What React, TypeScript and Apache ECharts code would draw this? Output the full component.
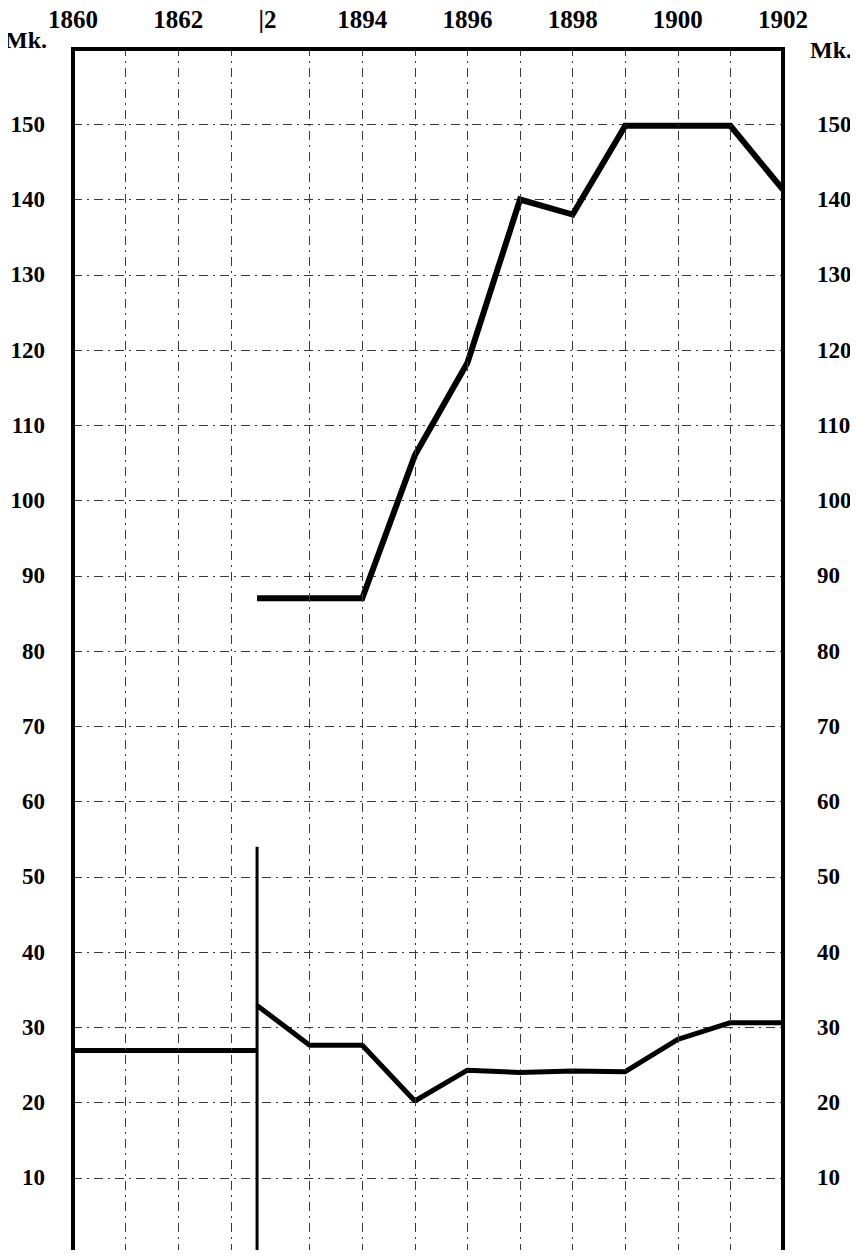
import React, { useEffect, useRef } from "react";
import * as echarts from "echarts";

// Broken time axis: 1860–1863 on the left, 1892–1902 on the right.
const leftYears = [1860, 1861, 1862, 1863];
const leftValues = [26.9, 26.9, 26.9, 26.9];

const rightYears = [1892, 1893, 1894, 1895, 1896, 1897, 1898, 1899, 1900, 1901, 1902];
const upperValues = [87, 87, 87, 106, 118.3, 140, 138, 149.8, 149.8, 149.8, 141.3];
const lowerValues = [32.9, 27.6, 27.6, 20.2, 24.3, 24.0, 24.2, 24.1, 28.4, 30.6, 30.6];

const breakHeight = 54;
const gridYears = [1861, 1862, 1863, 1893, 1894, 1895, 1896, 1897, 1898, 1899, 1900, 1901];
const topLabelYears = [1860, 1862, 1892.2, 1894, 1896, 1898, 1900, 1902];
const topLabels = ["1860", "1862", "|2", "1894", "1896", "1898", "1900", "1902"];
const yMin = 0;
const yMax = 160;

const BREAK = 3.5; // axis position where the two periods meet
const pos = (year: number) => (year < 1880 ? year - 1860 : year - 1892 + BREAK);

export default function App() {
  const ref = useRef<HTMLDivElement>(null);
  useEffect(() => {
    if (!ref.current) return;
    const chart = echarts.init(ref.current, null, { renderer: "svg" });
    const font = "'Liberation Serif', 'Times New Roman', serif";
    const gridLine = { color: "#3a3a3a", width: 1, type: [9, 5, 2, 5] as number[] };
    const frame = { show: true, onZero: false, lineStyle: { color: "#000", width: 4 } };
    const labelPos = topLabelYears.map(pos);
    const yLabelFmt = (v: number) => (v === yMin || v === yMax ? "" : String(v));
    const xEnd = pos(1902);
    const frameSeries = (v: number) => ({
      type: "line",
      data: [
        [0, v],
        [xEnd, v],
      ],
      clip: false,
      silent: true,
      showSymbol: false,
      z: 10,
      lineStyle: { color: "#000", width: 4, cap: "square" },
    });
    chart.setOption({
      animation: false,
      backgroundColor: "#fff",
      grid: { left: 73, right: 75, top: 49, bottom: 5 },
      xAxis: [
        {
          type: "value",
          position: "top",
          min: 0,
          max: xEnd,
          axisLine: { show: false },
          axisTick: { show: false },
          splitLine: { show: false },
          axisLabel: {
            customValues: labelPos,
            margin: 17,
            color: "#000",
            fontFamily: font,
            fontWeight: "bold",
            fontSize: 25,
            formatter: (v: number) => {
              const i = labelPos.findIndex((p) => Math.abs(p - v) < 1e-6);
              return i >= 0 ? topLabels[i] : "";
            },
          },
        },
      ],
      yAxis: [
        {
          type: "value",
          min: yMin,
          max: yMax,
          interval: 10,
          position: "left",
          axisLine: frame,
          axisTick: { show: false },
          splitLine: { show: true, lineStyle: gridLine },
          axisLabel: {
            margin: 28,
            color: "#000",
            fontFamily: font,
            fontWeight: "bold",
            fontSize: 23,
            formatter: yLabelFmt,
          },
        },
        {
          type: "value",
          min: yMin,
          max: yMax,
          interval: 10,
          position: "right",
          axisLine: frame,
          axisTick: { show: false },
          splitLine: { show: false },
          axisLabel: {
            margin: 34,
            color: "#000",
            fontFamily: font,
            fontWeight: "bold",
            fontSize: 23,
            formatter: yLabelFmt,
          },
        },
      ],
      graphic: [
        {
          type: "text",
          left: 5,
          top: 28,
          style: { text: "Mk.", font: `bold 24px ${font}`, fill: "#000" },
        },
        {
          type: "text",
          left: 810,
          top: 38,
          style: { text: "Mk.", font: `bold 24px ${font}`, fill: "#000" },
        },
      ],
      series: [
        {
          type: "line",
          name: "grid",
          data: [],
          silent: true,
          markLine: {
            silent: true,
            symbol: "none",
            label: { show: false },
            lineStyle: gridLine,
            data: gridYears.map((y) => ({ xAxis: pos(y) })),
          },
        },
        { ...frameSeries(yMax), name: "frameTop" },
        { ...frameSeries(yMin), name: "frameBottom" },
        {
          type: "line",
          name: "break",
          data: [
            [BREAK, 0],
            [BREAK, breakHeight],
          ],
          showSymbol: false,
          lineStyle: { color: "#000", width: 3 },
        },
        {
          type: "line",
          name: "left",
          data: [...leftYears.map((y, i) => [pos(y), leftValues[i]]), [BREAK, leftValues[leftValues.length - 1]]],
          showSymbol: false,
          lineStyle: { color: "#000", width: 5 },
        },
        {
          type: "line",
          name: "upper",
          data: rightYears.map((y, i) => [pos(y), upperValues[i]]),
          showSymbol: false,
          lineStyle: { color: "#000", width: 6, join: "miter" },
        },
        {
          type: "line",
          name: "lower",
          data: rightYears.map((y, i) => [pos(y), lowerValues[i]]),
          showSymbol: false,
          lineStyle: { color: "#000", width: 5 },
        },
      ],
    });
    return () => chart.dispose();
  }, []);
  return <div ref={ref} style={{ width: 858, height: 1258, margin: -8 }} />;
}
